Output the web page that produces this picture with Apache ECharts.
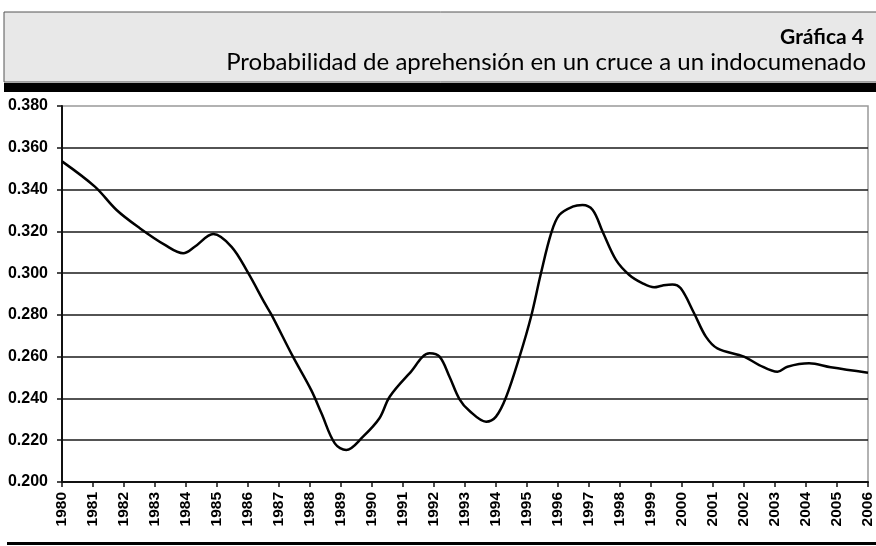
<!DOCTYPE html>
<html>
<head>
<meta charset="utf-8">
<script src="https://cdn.jsdelivr.net/npm/echarts@6/dist/echarts.min.js"></script>
<style>
html,body{margin:0;padding:0;background:#fff;}
#c{width:876px;height:546px;}
</style>
</head>
<body>
<div id="c"></div>
<script>
var titleText = 'Gráfica 4';
var subtitleText = 'Probabilidad de aprehensión en un cruce a un indocumenado';
var yearMin = 1980, yearMax = 2006;
var yMin = 0.200, yMax = 0.380, yStep = 0.020;

var xs = [1980.0, 1981.06, 1981.76, 1982.51, 1983.32, 1983.91, 1984.28, 1984.88, 1985.47, 1986.0,
  1986.54, 1986.76, 1987.45, 1988.04, 1988.37, 1988.8, 1989.17, 1989.71, 1990.24, 1990.57,
  1991.21, 1991.86, 1992.18, 1992.5, 1992.82, 1993.14, 1993.68, 1994.0, 1994.33, 1994.76,
  1995.13, 1995.45, 1995.78, 1996.04, 1996.47, 1996.79, 1997.12, 1997.44, 1997.87, 1998.30,
  1998.73, 1999.10, 1999.35, 1999.69, 1999.96, 2000.39, 2000.77, 2001.14, 2002.0, 2002.49,
  2003.08, 2003.40, 2004.10, 2004.80, 2006.0];
var ys = [0.3535, 0.3414, 0.3302, 0.3215, 0.3135, 0.3095, 0.3126, 0.3187, 0.3126, 0.3002,
  0.2856, 0.2800, 0.2600, 0.2440, 0.2329, 0.2185, 0.2153, 0.2217, 0.2305, 0.2408,
  0.2520, 0.2616, 0.2600, 0.2504, 0.2397, 0.2341, 0.2289, 0.2313, 0.2408, 0.2600,
  0.2791, 0.2999, 0.3191, 0.3278, 0.3318, 0.3326, 0.3302, 0.3198, 0.3063, 0.2991,
  0.2951, 0.2932, 0.2940, 0.2946, 0.2927, 0.2808, 0.2696, 0.2640, 0.2600, 0.2560,
  0.2528, 0.2552, 0.2568, 0.2549, 0.2523];

var chart = echarts.init(document.getElementById('c'), null, {renderer: 'canvas'});
var data = xs.map(function (x, i) { return [x, ys[i]]; });

chart.setOption({
  animation: false,
  backgroundColor: '#ffffff',
  grid: {left: 62, right: 7, top: 106, bottom: 64, show: true, borderColor: '#999', borderWidth: 1.5, backgroundColor: 'transparent'},
  xAxis: {
    type: 'value', min: yearMin, max: yearMax, interval: 1,
    axisLine: {show: true, onZero: false, lineStyle: {color: '#111', width: 2}},
    axisTick: {show: true, length: 5, lineStyle: {color: '#111', width: 1.5}},
    splitLine: {show: false},
    axisLabel: {
      rotate: 90, margin: 10, color: '#000', fontFamily: 'Liberation Sans', fontWeight: 'bold', fontSize: 15.5,
      formatter: function (v) { return String(v); }
    }
  },
  yAxis: {
    type: 'value', min: yMin, max: yMax, interval: yStep,
    axisLine: {show: true, lineStyle: {color: '#111', width: 2}},
    axisTick: {show: true, length: 5, lineStyle: {color: '#111', width: 1.5}},
    splitLine: {show: true, showMaxLine: false, showMinLine: false, lineStyle: {color: '#1a1a1a', width: 1.6}},
    axisLabel: {
      margin: 14, color: '#000', fontFamily: 'Liberation Sans', fontWeight: 'bold', fontSize: 16,
      formatter: function (v) { return v.toFixed(3); }
    }
  },
  series: [{
    type: 'line', data: data, smooth: 0.35, showSymbol: false, symbol: 'none',
    lineStyle: {color: '#000', width: 2.5}
  }],
  graphic: [
    {type: 'rect', shape: {x: 4, y: 12, width: 880, height: 70}, style: {fill: '#e8e8e8', stroke: '#555', lineWidth: 1}, z: 0},
    {type: 'rect', shape: {x: 4, y: 83, width: 880, height: 9}, style: {fill: '#000'}, z: 1},
    {type: 'rect', shape: {x: 7, y: 542, width: 880, height: 3}, style: {fill: '#000'}, z: 1},
    {type: 'text', style: {text: titleText, x: 864, y: 27, textAlign: 'right', textVerticalAlign: 'top', font: 'bold 21px Lato', fill: '#000'}, z: 2},
    {type: 'text', style: {text: subtitleText, x: 866, y: 50, textAlign: 'right', textVerticalAlign: 'top', font: '24px Lato', fill: '#000'}, z: 2}
  ]
});
</script>
</body>
</html>
